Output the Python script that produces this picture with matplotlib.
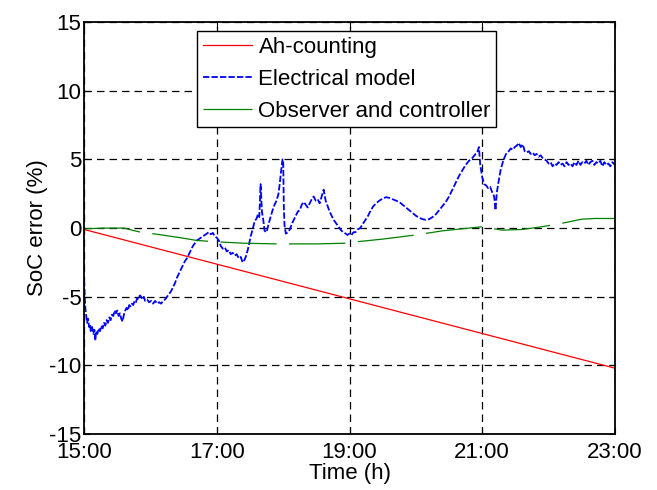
import matplotlib
matplotlib.use("Agg")
import matplotlib.pyplot as plt

# time in hours, SoC error in %
ah_t = [15.0, 23.0]
ah_err = [-0.1, -10.2]

model_t = [
    15.00, 15.01, 15.02, 15.03, 15.045, 15.06, 15.075, 15.09, 15.10, 15.12,
    15.14, 15.155, 15.17, 15.18, 15.20, 15.22, 15.24, 15.26, 15.28, 15.30,
    15.32, 15.34, 15.36, 15.38, 15.40, 15.42, 15.44, 15.46, 15.48, 15.50,
    15.52, 15.54, 15.56, 15.58, 15.60, 15.62, 15.64, 15.66, 15.68, 15.70,
    15.72, 15.74, 15.76, 15.78, 15.80, 15.82, 15.84, 15.86, 15.88, 15.90,
    15.92, 15.95, 15.98, 16.01, 16.04, 16.07, 16.10, 16.13, 16.16, 16.19,
    16.22, 16.25, 16.28, 16.31, 16.34, 16.37, 16.40, 16.43, 16.46, 16.49,
    16.52, 16.55, 16.58, 16.61, 16.64, 16.67, 16.70, 16.73, 16.76, 16.79,
    16.82, 16.85, 16.88, 16.91, 16.94, 16.97, 17.00, 17.03, 17.06, 17.09,
    17.12, 17.15, 17.18, 17.21, 17.24, 17.27, 17.30, 17.33, 17.36, 17.39,
    17.42, 17.45, 17.48, 17.51, 17.54, 17.57, 17.60, 17.62, 17.64, 17.66,
    17.68, 17.70, 17.72, 17.75, 17.78, 17.81, 17.84, 17.87, 17.90, 17.93,
    17.95, 17.97, 17.99, 18.00, 18.01, 18.02, 18.04, 18.07, 18.10, 18.13,
    18.16, 18.19, 18.22, 18.25, 18.28, 18.31, 18.34, 18.37, 18.40, 18.43,
    18.46, 18.49, 18.52, 18.55, 18.58, 18.61, 18.64, 18.67, 18.70, 18.73,
    18.76, 18.79, 18.82, 18.85, 18.88, 18.91, 18.94, 18.97, 19.00, 19.03,
    19.06, 19.09, 19.12, 19.16, 19.20, 19.24, 19.28, 19.32, 19.36, 19.40,
    19.45, 19.50, 19.55, 19.60, 19.65, 19.70, 19.75, 19.80, 19.85, 19.90,
    19.95, 20.00, 20.05, 20.10, 20.15, 20.20, 20.25, 20.30, 20.35, 20.40,
    20.45, 20.50, 20.55, 20.60, 20.65, 20.70, 20.75, 20.80, 20.85, 20.90,
    20.93, 20.95, 20.97, 21.00, 21.03, 21.06, 21.09, 21.12, 21.15, 21.18,
    21.20, 21.22, 21.25, 21.28, 21.31, 21.34, 21.37, 21.40, 21.43, 21.46,
    21.49, 21.52, 21.55, 21.58, 21.61, 21.64, 21.67, 21.70, 21.73, 21.76,
    21.79, 21.82, 21.85, 21.88, 21.91, 21.94, 21.97, 22.00, 22.03, 22.06,
    22.09, 22.12, 22.15, 22.18, 22.21, 22.24, 22.27, 22.30, 22.33, 22.36,
    22.39, 22.42, 22.45, 22.48, 22.51, 22.54, 22.57, 22.60, 22.63, 22.66,
    22.69, 22.72, 22.75, 22.78, 22.81, 22.84, 22.87, 22.90, 22.93, 22.96,
    23.00,
]
model_err = [
    -3.8, -5.0, -5.9, -6.3, -6.9, -6.6, -7.2, -7.0, -7.5, -7.2,
    -7.7, -7.4, -8.2, -7.5, -7.7, -7.3, -7.5, -7.1, -7.3, -6.9,
    -7.1, -6.7, -6.9, -6.5, -6.7, -6.3, -6.4, -6.0, -6.2, -6.0,
    -6.4, -6.2, -6.6, -6.8, -6.3, -6.0, -5.8, -6.0, -5.6, -5.7,
    -5.5, -5.6, -5.3, -5.4, -5.1, -5.2, -4.9, -5.0, -5.2, -5.0,
    -5.3, -5.2, -5.4, -5.3, -5.5, -5.3, -5.5, -5.4, -5.5, -5.3,
    -5.2, -5.0, -4.8, -4.6, -4.3, -4.0, -3.6, -3.3, -3.0, -2.7,
    -2.4, -2.2, -1.9, -1.6, -1.3, -1.1, -0.9, -0.8, -0.7, -0.6,
    -0.5, -0.4, -0.3, -0.45, -0.35, -0.6, -0.7, -0.9, -1.3, -1.5,
    -1.4, -1.7, -1.6, -1.9, -1.8, -2.0, -1.9, -2.2, -2.1, -2.5,
    -2.3, -1.9, -1.3, -0.6, -0.1, 0.5, 0.7, 1.0, 0.8, 3.2,
    1.2, 0.6, -0.2, -0.3, 0.3, 0.8, 1.3, 1.7, 2.0, 2.5,
    3.3, 4.2, 5.0, 5.0, 1.5, 0.2, -0.4, -0.3, -0.1, 0.3,
    0.6, 0.9, 1.2, 1.3, 1.7, 1.9, 1.7, 1.5, 1.8, 2.1,
    2.3, 2.0, 2.1, 1.8, 2.3, 2.8, 2.0, 1.6, 1.2, 0.9,
    0.6, 0.4, 0.2, 0.0, -0.2, -0.3, -0.4, -0.5, -0.4, -0.5,
    -0.3, -0.3, -0.1, 0.0, 0.3, 0.6, 0.9, 1.3, 1.6, 1.8,
    2.0, 2.15, 2.25, 2.2, 2.1, 2.0, 1.9, 1.7, 1.5, 1.3,
    1.1, 0.9, 0.75, 0.65, 0.6, 0.65, 0.8, 1.0, 1.3, 1.6,
    1.9, 2.3, 2.8, 3.3, 3.8, 4.2, 4.6, 4.9, 5.1, 5.4,
    5.6, 5.9, 4.6, 3.7, 3.2, 3.1, 2.9, 3.0, 2.6, 2.3,
    1.3, 2.6, 3.5, 4.3, 4.8, 5.2, 5.5, 5.6, 5.8, 5.7,
    5.9, 6.0, 6.2, 5.9, 6.1, 5.6, 5.5, 5.6, 5.4, 5.5,
    5.3, 5.4, 5.2, 5.3, 5.1, 5.0, 4.9, 4.7, 4.8, 4.5,
    4.7, 4.6, 4.8, 4.6, 4.7, 4.5, 4.8, 4.6, 4.7, 4.5,
    4.8, 4.6, 4.9, 4.6, 4.8, 4.7, 4.9, 4.6, 4.8, 4.9,
    4.6, 4.8, 4.7, 4.9, 4.5, 4.8, 4.6, 4.7, 4.5, 4.8,
    4.6,
]

obs_t = [15.0, 15.3, 15.6, 15.85, 16.1, 16.45, 16.7, 17.0, 17.4, 17.9,
         18.5, 18.95, 19.1, 19.5, 20.0, 20.4, 20.7, 21.0, 21.3, 21.6,
         21.9, 22.2, 22.5, 22.7, 23.0]
obs_err = [-0.05, 0.0, 0.0, -0.3, -0.45, -0.7, -0.9, -1.0, -1.1, -1.15,
           -1.15, -1.1, -1.0, -0.8, -0.5, -0.2, -0.05, 0.1, -0.15, -0.1,
           0.1, 0.35, 0.65, 0.7, 0.7]

x_ticks = [15, 17, 19, 21, 23]
x_labels = ["15:00", "17:00", "19:00", "21:00", "23:00"]
y_ticks = [-15, -10, -5, 0, 5, 10, 15]

plt.rcParams["font.family"] = ["Liberation Sans", "DejaVu Sans"]
plt.rcParams["axes.unicode_minus"] = False

fs = 16

fig = plt.figure(figsize=(6.57, 4.9), dpi=100)
ax = fig.add_axes([0.128, 0.114, 0.808, 0.841])

ax.plot(ah_t, ah_err, color="red", lw=0.9, label="Ah-counting")
ax.plot(model_t, model_err, color="blue", lw=1.3, dashes=(3.5, 1.2),
        label="Electrical model")
ax.plot(obs_t, obs_err, color="green", lw=0.9, dashes=(45, 10),
        label="Observer and controller")

ax.set_xlim(15, 23)
ax.set_ylim(-15, 15)
ax.set_xticks(x_ticks)
ax.set_xticklabels(x_labels)
ax.set_yticks(y_ticks)
ax.tick_params(direction="in", top=True, right=True, labelsize=fs,
               length=4, width=0.8)
ax.tick_params(axis="x", pad=6)
ax.tick_params(axis="y", pad=2)
for s in ax.spines.values():
    s.set_linewidth(1.3)

# matlab-ish dashed grid
ax.grid(True, color="black", linestyle=(0, (6, 4)), linewidth=0.9)

ax.set_xlabel("Time (h)", fontsize=fs, labelpad=0)
ax.set_ylabel("SoC error (%)", fontsize=fs, labelpad=1)

leg = ax.legend(loc="upper center", bbox_to_anchor=(0.495, 0.978),
                fontsize=fs, fancybox=False, framealpha=1,
                edgecolor="black", handlelength=2.2, handletextpad=0.3,
                borderpad=0.25, labelspacing=0.5, borderaxespad=0)
leg.get_frame().set_linewidth(1.0)

fig.savefig("out.png", dpi=100)
plt.close(fig)
